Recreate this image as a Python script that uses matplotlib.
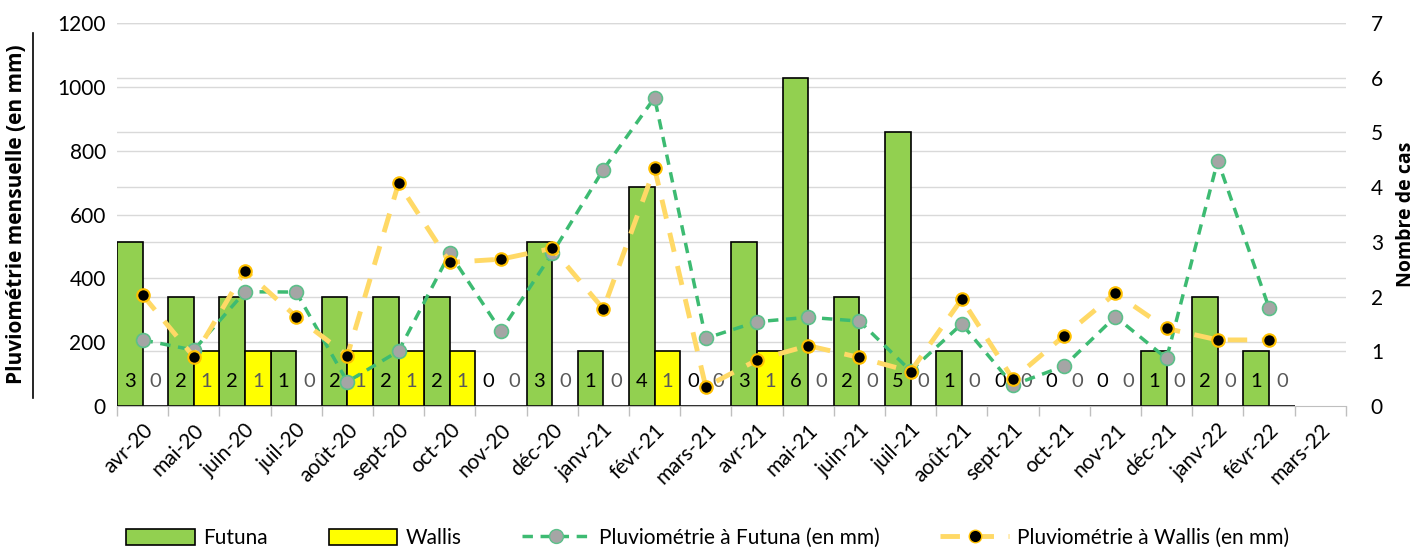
import numpy as np
from matplotlib import pyplot as plt
from matplotlib.patches import Patch
from matplotlib.lines import Line2D

plt.rcParams['font.family'] = ['Lato', 'DejaVu Sans']

mois = ['avr-20', 'mai-20', 'juin-20', 'juil-20', 'août-20', 'sept-20', 'oct-20', 'nov-20',
        'déc-20', 'janv-21', 'févr-21', 'mars-21', 'avr-21', 'mai-21', 'juin-21', 'juil-21',
        'août-21', 'sept-21', 'oct-21', 'nov-21', 'déc-21', 'janv-22', 'févr-22', 'mars-22']

# nombre de cas (mars-22 sans donnée)
cas_futuna = [3, 2, 2, 1, 2, 2, 2, 0, 3, 1, 4, 0, 3, 6, 2, 5, 1, 0, 0, 0, 1, 2, 1, np.nan]
cas_wallis = [0, 1, 1, 0, 1, 1, 1, 0, 0, 0, 1, 0, 1, 0, 0, 0, 0, 0, 0, 0, 0, 0, 0, np.nan]

# pluviometrie mensuelle (mm)
pluie_futuna = [207, 175, 358, 357, 76, 172, 478, 235, 478, 741, 966, 212, 264, 278, 266, 110,
                257, 66, 125, 280, 149, 769, 308, np.nan]
pluie_wallis = [348, 154, 424, 280, 158, 698, 450, 460, 494, 304, 745, 60, 144, 189, 152, 108,
                335, 84, 220, 353, 243, 207, 207, np.nan]

vert = '#92D050'
jaune = '#FFFF00'
ligne_f = '#3DBB72'
ligne_w = '#FFD966'
grille = '#D9D9D9'
titre_font = ['Open Sans', 'DejaVu Sans']

fig = plt.figure(figsize=(14.16, 5.49), dpi=100)
ax = fig.add_axes([0.0826, 0.2605, 0.8678, 0.6975])
ax2 = ax.twinx()

x = np.arange(len(mois))

# barres sur l'axe des cas
ax.bar(x - 0.25, cas_futuna, width=0.5, color=vert, edgecolor='black', linewidth=1.2, zorder=2)
ax.bar(x + 0.25, cas_wallis, width=0.5, color=jaune, edgecolor='black', linewidth=1.2, zorder=2)
ax.set_ylim(0, 7)
ax.set_xlim(-0.5, len(mois) - 0.5)

# grilles des deux axes
for v in range(1, 8):
    ax.axhline(v, color=grille, lw=1, zorder=0)
for v in range(200, 1201, 200):
    ax.axhline(v * 7 / 1200, color=grille, lw=1, zorder=0)

for i in range(len(mois)):
    if not np.isnan(cas_futuna[i]):
        ax.text(x[i] - 0.25, 0.45, str(int(cas_futuna[i])), ha='center', va='center',
                fontsize=14.5, color='black', zorder=3)
        ax.text(x[i] + 0.25, 0.45, str(int(cas_wallis[i])), ha='center', va='center',
                fontsize=14.5, color='#595959', zorder=3)

# courbes de pluie
ax2.plot(x, pluie_futuna, linestyle=(0, (3, 2.2)), color=ligne_f, lw=2.5, marker='o', ms=10,
         mfc='#A5A5A5', mec='#5CC08A', mew=1.2, zorder=4)
ax2.plot(x, pluie_wallis, linestyle=(0, (4, 3)), color=ligne_w, lw=3.5, marker='o', ms=9,
         mfc='black', mec='#FFC000', mew=1.5, zorder=5)
ax2.set_ylim(0, 1200)
ax2.set_yticks(range(0, 1201, 200))

# axes placement: pluie a gauche, cas a droite
ax.yaxis.tick_right()
ax.yaxis.set_label_position('right')
ax2.yaxis.tick_left()
ax2.yaxis.set_label_position('left')
ax.set_yticks(range(0, 8))

for a in (ax, ax2):
    for s in ['top', 'left', 'right']:
        a.spines[s].set_visible(False)
    a.spines['bottom'].set_color('#BFBFBF')
    a.tick_params(axis='y', length=0, labelsize=15)
ax2.spines['bottom'].set_visible(False)
ax2.tick_params(axis='y', pad=8)
ax.tick_params(axis='y', pad=18)

ax.set_xticks(x)
ax.set_xticklabels(mois, rotation=45, ha='right', rotation_mode='anchor', fontsize=15)
ax.set_xticks(np.arange(-0.5, len(mois)), minor=True)
ax.tick_params(axis='x', which='major', length=0, pad=10)
ax.tick_params(axis='x', which='minor', length=7, color='#BFBFBF', width=1)

ax2.set_ylabel('Pluviométrie mensuelle (en mm)', fontsize=15, fontweight='bold', family=titre_font)
ax2.yaxis.set_label_coords(-0.0735, 0.5)
ax.set_ylabel('Nombre de cas', fontsize=14, fontweight='bold', family=titre_font)
ax.yaxis.set_label_coords(1.0408, 0.5)

# souligne du titre gauche
fig.add_artist(Line2D([33 / 1416, 33 / 1416], [1 - 398 / 549, 1 - 33 / 549], color='black', lw=1.2))

handles = [Patch(facecolor=vert, edgecolor='black', linewidth=1.2),
           Patch(facecolor=jaune, edgecolor='black', linewidth=1.2),
           Line2D([], [], linestyle=(0, (3, 2.2)), color=ligne_f, lw=2.5, marker='o', ms=10,
                  mfc='#A5A5A5', mec='#5CC08A'),
           Line2D([], [], linestyle=(0, (4, 3)), color=ligne_w, lw=3.5, marker='o', ms=9,
                  mfc='black', mec='#FFC000')]
labels = ['Futuna', 'Wallis', 'Pluviométrie à Futuna (en mm)', 'Pluviométrie à Wallis (en mm)']
fig.legend(handles, labels, loc='center', bbox_to_anchor=(0.5, 0.02), ncol=4, frameon=False,
           fontsize=15, handlelength=3.3, handleheight=0.8, columnspacing=2.9, handletextpad=0.4)

fig.savefig('out.png', dpi=100)
